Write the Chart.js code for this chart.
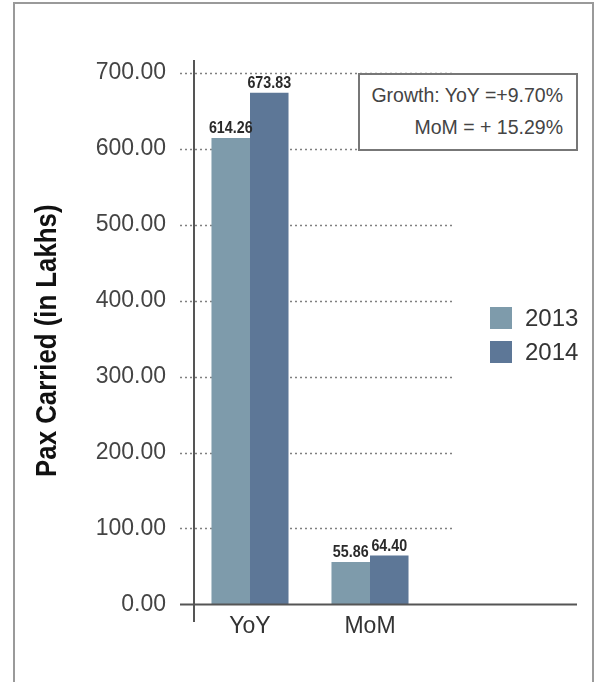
<!DOCTYPE html>
<html>
<head>
<meta charset="utf-8">
<script src="https://cdn.jsdelivr.net/npm/chart.js@4.4.0/dist/chart.umd.min.js"></script>
<style>
  html, body { margin:0; padding:0; background:#fff; }
  #wrap { position:relative; width:606px; height:682px; overflow:hidden; }
  #frame { position:absolute; left:13px; top:2px; width:577px; height:700px;
    border:2px solid #9a9a9a; border-bottom:none; }
  #c { position:absolute; left:0; top:0; }
  #growth { position:absolute; left:358px; top:73px; width:203px; height:70px;
    border:2px solid #777; background:#fff; font-family:"Liberation Sans", Arial, sans-serif;
    font-size:19.5px; color:#444; text-align:right; padding:4px 13px 0 0;
    line-height:32px; }
  .leg { position:absolute; left:490px; font-family:"Liberation Sans", Arial, sans-serif;
    font-size:24px; color:#333; line-height:22px; }
  .leg span { display:inline-block; width:22px; height:22px; vertical-align:top; margin-right:13px; }
</style>
</head>
<body>
<div id="wrap">
  <div id="frame"></div>
  <canvas id="c" width="606" height="682"></canvas>
  <div id="growth">Growth: YoY =+9.70%<br>MoM = + 15.29%</div>
  <div id="legend"></div>
</div>
<script>
const categories = ['YoY', 'MoM'];
const seriesNames = ['2013', '2014'];
const values2013 = [614.26, 55.86];
const values2014 = [673.83, 64.40];
const yTicks = [0, 100, 200, 300, 400, 500, 600, 700];
const yTitle = 'Pax Carried (in Lakhs)';
const colors = ['#7e9bab', '#5d7797'];

// legend (html)
const legEl = document.getElementById('legend');
seriesNames.forEach((n, i) => {
  const d = document.createElement('div');
  d.className = 'leg';
  d.style.top = (307 + i * 34) + 'px';
  d.innerHTML = `<span style="background:${colors[i]}"></span>${n}`;
  legEl.appendChild(d);
});

const sans = '"Liberation Sans", Arial, sans-serif';

// no narrow font installed -> squeeze text horizontally
function condensedText(ctx, txt, x, y, sx) {
  ctx.save();
  ctx.translate(x, y);
  ctx.scale(sx, 1);
  ctx.fillText(txt, 0, 0);
  ctx.restore();
}

const axesPlugin = {
  id: 'axesPlugin',
  beforeDatasetsDraw(chart) {
    const { ctx, scales: { y } } = chart;
    ctx.save();
    ctx.strokeStyle = '#808080';
    ctx.lineWidth = 1.5;
    ctx.setLineDash([2, 3]);
    yTicks.forEach(v => {
      if (v === 0) return;
      const py = Math.round(y.getPixelForValue(v)) + 0.5;
      ctx.beginPath(); ctx.moveTo(180, py); ctx.lineTo(455, py); ctx.stroke();
    });
    ctx.restore();
  },
  afterDatasetsDraw(chart) {
    const { ctx, chartArea, scales: { y } } = chart;
    ctx.save();
    ctx.strokeStyle = '#555';
    ctx.lineWidth = 2;
    const y0 = y.getPixelForValue(0);
    ctx.beginPath(); ctx.moveTo(180, y0); ctx.lineTo(577, y0); ctx.stroke();
    ctx.beginPath(); ctx.moveTo(194, 60); ctx.lineTo(194, 622); ctx.stroke();

    // value labels on top of bars
    ctx.font = 'bold 17px ' + sans;
    ctx.fillStyle = '#2a2a2a';
    ctx.textAlign = 'center';
    ctx.textBaseline = 'bottom';
    chart.data.datasets.forEach((ds, di) => {
      chart.getDatasetMeta(di).data.forEach((bar, i) => {
        condensedText(ctx, ds.data[i].toFixed(2), bar.x, bar.y - 1, 0.84);
      });
    });

    // y axis title
    ctx.save();
    ctx.font = 'bold 30px ' + sans;
    ctx.fillStyle = '#111';
    ctx.textAlign = 'center';
    ctx.textBaseline = 'middle';
    ctx.translate(48, (chartArea.top + chartArea.bottom) / 2 + 2);
    ctx.rotate(-Math.PI / 2);
    ctx.scale(0.86, 1);
    ctx.fillText(yTitle, 0, 0);
    ctx.restore();
    ctx.restore();
  }
};

new Chart(document.getElementById('c'), {
  type: 'bar',
  data: {
    labels: categories,
    datasets: [
      { label: seriesNames[0], data: values2013, backgroundColor: colors[0] },
      { label: seriesNames[1], data: values2014, backgroundColor: colors[1] }
    ]
  },
  options: {
    responsive: false,
    animation: false,
    events: [],
    layout: { padding: { left: 0, top: 73, right: 176, bottom: 42 } },
    datasets: { bar: { categoryPercentage: 0.642, barPercentage: 1 } },
    plugins: { legend: { display: false }, tooltip: { enabled: false } },
    scales: {
      x: {
        offset: true,
        grid: { display: false },
        border: { display: false },
        ticks: { font: { size: 23, family: sans }, color: '#333', padding: 0 }
      },
      y: {
        min: 0, max: 700,
        afterFit: s => { s.width = 190; },
        afterBuildTicks: s => { s.ticks = yTicks.map(v => ({ value: v })); },
        grid: { display: false },
        border: { display: false },
        ticks: {
          font: { size: 23, family: sans },
          color: '#444', padding: 16,
          callback: v => Number(v).toFixed(2)
        }
      }
    }
  },
  plugins: [axesPlugin]
});
</script>
</body>
</html>
